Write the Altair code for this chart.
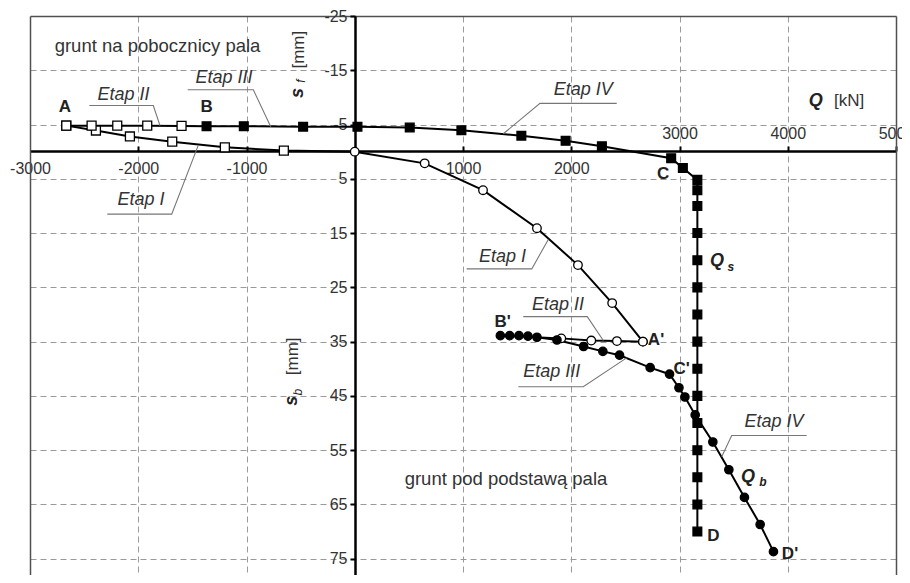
import altair as alt
import pandas as pd

# ---------------- data ----------------
# Etap I : A -> (0,0) on shaft side (open squares), then base side to A' (open circles)
etap1_Q = [-2665, -2391, -2077, -1686, -1200, -655, 0, 646, 1185, 1683, 2062, 2378, 2662]
etap1_s = [-4.8, -3.9, -2.8, -1.85, -0.8, -0.2, 0.0, 2.15, 7.1, 14.1, 20.9, 27.9, 35.0]
# Etap II, shaft : A -> B
etap2_shaft_Q = [-2665, -2431, -2194, -1917, -1600, -1369]
etap2_shaft_s = [-4.8, -4.8, -4.8, -4.8, -4.75, -4.7]
# Etap III + IV, shaft : B -> C -> D  (Q_s)
etap34_shaft_Q = [-1369, -1025, -477, 25, 508, 985, 1539, 1948, 2283, 2923, 3031,
                  3165, 3165, 3165, 3165, 3165, 3165, 3165, 3165, 3165, 3165, 3165,
                  3165, 3165, 3165, 3165]
etap34_shaft_s = [-4.7, -4.7, -4.6, -4.6, -4.45, -3.95, -2.95, -2.0, -1.0, 1.2, 3.0,
                  5.2, 7.1, 10, 15, 20, 25, 30, 35, 40, 45, 50, 55, 60, 65, 70]
# Etap II, base : A' -> B'
etap2_base_Q = [2662, 2422, 2185, 1908, 1345]
etap2_base_s = [35.0, 34.9, 34.8, 34.4, 33.9]
# Etap III + IV, base : B' -> C' -> D'  (Q_b)
etap34_base_Q = [1345, 1431, 1517, 1600, 1683, 1868, 2114, 2292, 2446, 2729, 2908,
                 2995, 3050, 3145, 3308, 3456, 3600, 3745, 3868]
etap34_base_s = [33.9, 33.9, 33.9, 34.0, 34.2, 34.7, 35.9, 36.8, 37.5, 39.8, 41.0,
                 43.5, 45.2, 48.5, 53.5, 58.6, 63.7, 68.7, 73.7]

# axis values
x_label_values_below = [-3000, -2000, -1000, 1000, 2000]
x_tick_values = [-2000, -1000, 1000, 2000, 3000, 4000, 5000]
x_grid_values = [-2000, -1000, 1000, 2000, 3000, 4000]
y_values = [-25, -15, -5, 5, 15, 25, 35, 45, 55, 65, 75]
y_grid_values = [-15, -5, 5, 15, 25, 35, 45, 55, 65, 75]

# "Etap" call-outs: text, text position, underline start, joint, leader end
etap_text = ["Etap II", "Etap III", "Etap I", "Etap IV", "Etap I", "Etap II", "Etap III", "Etap IV"]
etap_tx = [-2136, -1208, -1975, 2111, 1365, 1878, 1819, 3873]
etap_ty = [-10.4, -13.6, 8.9, -11.3, 19.4, 28.3, 40.6, 49.8]
lead_x0 = [-2452, -1543, -2286, 2420, 1034, 1557, 1511, 4175]
lead_x1 = [-1861, -937, -1691, 1711, 1635, 2148, 2111, 3482]
lead_y1 = [-8.5, -11.4, 11.5, -8.9, 21.6, 30.4, 43.3, 52.3]
lead_x2 = [-1799, -776, -1445, 1372, 1788, 2296, 2512, 3390]
lead_y2 = [-4.8, -4.6, -1.2, -3.3, 16.2, 34.8, 38.0, 56.2]

# bold point letters
pt_text = ["A", "B", "C", "D", "D'", "A'", "B'", "C'"]
pt_x = [-2677, -1368, 2850, 3312, 4021, 2783, 1367, 3020]
pt_y = [-8.2, -8.3, 4.1, 70.8, 74.1, 34.7, 31.3, 40.0]

# ---------------- tables ----------------
def path_df(name, qs, ss):
    return pd.DataFrame({"Q": qs, "s": ss, "path": name, "i": list(range(len(qs)))})

paths = pd.concat([
    path_df("I", etap1_Q, etap1_s),
    path_df("IIs", etap2_shaft_Q, etap2_shaft_s),
    path_df("IIIs", etap34_shaft_Q, etap34_shaft_s),
    path_df("IIb", etap2_base_Q, etap2_base_s),
    path_df("IIIb", etap34_base_Q, etap34_base_s),
], ignore_index=True)

def mk(qs, ss, m):
    return pd.DataFrame({"Q": qs, "s": ss, "m": m})

markers = pd.concat([
    mk(etap1_Q[:6], etap1_s[:6], "sq_open"),
    mk(etap2_shaft_Q[:5], etap2_shaft_s[:5], "sq_open"),
    mk(etap34_shaft_Q, etap34_shaft_s, "sq_fill"),
    mk(etap1_Q[6:], etap1_s[6:], "ci_open"),
    mk(etap2_base_Q[:4], etap2_base_s[:4], "ci_open"),
    mk(etap34_base_Q, etap34_base_s, "ci_fill"),
], ignore_index=True)

lead_rows = []
for k in range(len(etap_text)):
    lead_rows += [
        {"k": k, "i": 0, "x": lead_x0[k], "y": lead_y1[k]},
        {"k": k, "i": 1, "x": lead_x1[k], "y": lead_y1[k]},
        {"k": k, "i": 2, "x": lead_x2[k], "y": lead_y2[k]},
    ]
leads = pd.DataFrame(lead_rows)
etaps = pd.DataFrame({"t": etap_text, "x": etap_tx, "y": etap_ty})
points_lbl = pd.DataFrame({"t": pt_text, "x": pt_x, "y": pt_y})

# ---------------- chart ----------------
FONT = "Liberation Sans"
W, H = 866, 559
X_DOM = [-3000, 5000]
Y_DOM = [-25, 78]
PLAIN = "'' + datum.value"   # hyphen-minus labels, as in the original

def xs():
    return alt.Scale(domain=X_DOM, nice=False, zero=False)

def ys():
    return alt.Scale(domain=Y_DOM, nice=False, zero=False, reverse=True)

GRID = dict(grid=True, gridColor="#9a9a9a", gridDash=[6, 4], gridWidth=1)
frame_x_axis = alt.Axis(orient="top", offset=0, domain=True, domainColor="#505050",
                        domainWidth=1.5, labels=False, ticks=False, title=None,
                        values=x_grid_values, **GRID)
frame_y_axis = alt.Axis(orient="left", offset=0, domain=True, domainColor="#505050",
                        domainWidth=1.5, labels=False, ticks=False, title=None,
                        values=y_grid_values, **GRID)
right_frame_axis = alt.Axis(orient="right", offset=0, domain=True, domainColor="#505050",
                            domainWidth=1.5, labels=False, ticks=False, grid=False, title=None)
top_label_axis = alt.Axis(orient="top", offset=-135, domain=False, ticks=True, tickSize=5,
                          tickWidth=2, tickColor="black", values=x_tick_values,
                          labelExpr="datum.value >= 3000 ? '' + datum.value : ''",
                          labelFont=FONT, labelFontSize=16, labelColor="#333",
                          labelPadding=5, labelFlush=False, labelOverlap=False,
                          grid=False, title=None)
main_x_axis = alt.Axis(orient="bottom", offset=-424, domain=True, domainColor="black",
                       domainWidth=2.5, ticks=False, values=x_label_values_below,
                       labelExpr=PLAIN,
                       labelFont=FONT, labelFontSize=16, labelColor="#333",
                       labelPadding=9, labelFlush=False, labelOverlap=False,
                       grid=False, title=None)
main_y_axis = alt.Axis(orient="left", offset=-325, domain=True, domainColor="black",
                       domainWidth=2.5, ticks=True, tickSize=5, tickWidth=2, tickColor="black",
                       values=y_values, labelExpr=PLAIN,
                       labelFont=FONT, labelFontSize=16, labelColor="#333",
                       labelPadding=3, labelFlush=False, labelOverlap=False,
                       grid=False, title=None)

lines = alt.Chart(paths).mark_line(color="black", strokeWidth=2).encode(
    x=alt.X("Q:Q", scale=xs(), axis=frame_x_axis),
    y=alt.Y("s:Q", scale=ys(), axis=frame_y_axis),
    detail="path:N",
    order="i:Q",
)

leaders = alt.Chart(leads).mark_line(color="#777", strokeWidth=1.1).encode(
    x=alt.X("x:Q", scale=xs(), axis=top_label_axis),
    y=alt.Y("y:Q", scale=ys(), axis=right_frame_axis),
    detail="k:N",
    order="i:Q",
)

m_dom = ["sq_open", "sq_fill", "ci_open", "ci_fill"]
marks = alt.Chart(markers).mark_point(filled=True, stroke="black", strokeWidth=1.3, opacity=1).encode(
    x=alt.X("Q:Q", scale=xs(), axis=main_x_axis),
    y=alt.Y("s:Q", scale=ys(), axis=main_y_axis),
    shape=alt.Shape("m:N", scale=alt.Scale(domain=m_dom, range=["square", "square", "circle", "circle"]), legend=None),
    fill=alt.Fill("m:N", scale=alt.Scale(domain=m_dom, range=["white", "black", "white", "black"]), legend=None),
    size=alt.Size("m:N", scale=alt.Scale(domain=m_dom, range=[80, 70, 50, 46]), legend=None),
)

def txt(df, **kw):
    return alt.Chart(df).mark_text(font=FONT, align="center", baseline="middle", **kw).encode(
        x=alt.X("x:Q", scale=xs(), axis=None),
        y=alt.Y("y:Q", scale=ys(), axis=None),
        text="t:N",
    )

etap_layer = txt(etaps, fontStyle="italic", fontSize=18, color="#333")
pt_layer = txt(points_lbl, fontWeight="bold", fontSize=17, color="#222")

region_text = pd.DataFrame({"t": ["grunt na pobocznicy pala", "grunt pod podstawą pala"],
                            "x": [-1822, 1397], "y": [-19.5, 60.4]})
region_layer = txt(region_text, fontSize=18.5, color="#333")

q_big = pd.DataFrame({"t": ["Q", "Q", "Q"], "x": [4259, 3347, 3633], "y": [-9.4, 20.1, 60.0]})
q_big_layer = txt(q_big, fontWeight="bold", fontStyle="italic", fontSize=18, color="#222")
q_sub = pd.DataFrame({"t": ["s", "b"], "x": [3475, 3771], "y": [21.2, 60.8]})
q_sub_layer = txt(q_sub, fontWeight="bold", fontStyle="italic", fontSize=12, color="#222")
kn = pd.DataFrame({"t": ["[kN]"], "x": [4566], "y": [-9.4]})
kn_layer = txt(kn, fontSize=17, color="#333")

# rotated axis titles s_f [mm] and s_b [mm]
s_main = pd.DataFrame({"t": ["s", "s"], "x": [-525, -577], "y": [-10.8, 45.9]})
s_main_layer = txt(s_main, fontWeight="bold", fontStyle="italic", fontSize=18, color="#222", angle=270)
s_sub = pd.DataFrame({"t": ["f", "b"], "x": [-497, -521], "y": [-13.0, 44.3]})
s_sub_layer = txt(s_sub, fontStyle="italic", fontSize=12, color="#222", angle=270)
mm = pd.DataFrame({"t": ["[mm]", "[mm]"], "x": [-519, -575], "y": [-18.8, 37.7]})
mm_layer = txt(mm, fontSize=17, color="#333", angle=270)

chart = alt.layer(
    lines, leaders, marks, etap_layer, pt_layer, region_layer,
    q_big_layer, q_sub_layer, kn_layer, s_main_layer, s_sub_layer, mm_layer,
).resolve_axis(x="independent", y="independent").properties(
    width=W, height=H,
    autosize=alt.AutoSizeParams(type="none"),
    padding={"left": 22, "top": 8, "right": 6, "bottom": 0},
).configure_view(stroke=None).configure(background="white")

chart.save("out.html", embed_options={"renderer": "svg", "actions": False})
